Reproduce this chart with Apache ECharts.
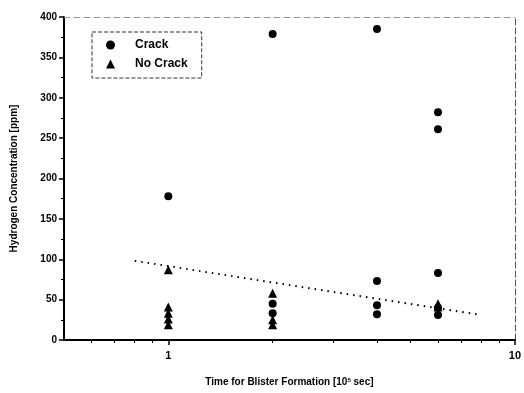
<!DOCTYPE html>
<html>
<head>
<meta charset="utf-8">
<script src="https://cdn.jsdelivr.net/npm/echarts@6/dist/echarts.min.js"></script>
<style>
  html, body { margin: 0; padding: 0; background: #fff; }
  #chart { width: 524px; height: 393px; }
</style>
</head>
<body>
<div id="chart"></div>
<script>
  // time [10^5 sec], hydrogen [ppm]
  const crackPoints = [
    [1, 178],
    [2, 379], [2, 45], [2, 33],
    [4, 385], [4, 73], [4, 43], [4, 32],
    [6, 282], [6, 261], [6, 83], [6, 40], [6, 31]
  ];
  const noCrackPoints = [
    [1, 87], [1, 41], [1, 33], [1, 26], [1, 19],
    [2, 58], [2, 25], [2, 19],
    [6, 45], [6, 41]
  ];
  const trendLine = [[0.8, 98], [8, 31]];

  const xMajorTicks = [1, 10];
  const xMinorTicks = [0.6, 0.7, 0.8, 0.9, 2, 3, 4, 5, 6, 7, 8, 9];

  const font = '"Liberation Sans", Arial, sans-serif';
  const chart = echarts.init(document.getElementById('chart'));

  chart.setOption({
    animation: false,
    backgroundColor: '#fff',
    textStyle: { fontFamily: font },
    grid: { left: 64, right: 7, top: 17, bottom: 53 },
    legend: {
      orient: 'vertical',
      left: 92,
      top: 32,
      padding: [7, 14, 8, 14],
      itemGap: 7,
      itemWidth: 9,
      itemHeight: 9,
      borderColor: '#333',
      borderWidth: 1,
      borderType: 'dashed',
      textStyle: { fontFamily: font, fontWeight: 'bold', fontSize: 12, color: '#000', padding: [0, 0, 0, 15] },
      data: [
        { name: 'Crack', icon: 'circle' },
        { name: 'No Crack', icon: 'triangle' }
      ]
    },
    xAxis: [
      {
        type: 'log',
        min: 0.5,
        max: 10,
        logBase: 10,
        name: 'Time for Blister Formation [10{sup|5} sec]',
        nameLocation: 'middle',
        nameGap: 37,
        nameTextStyle: {
          fontFamily: font, fontWeight: 'bold', fontSize: 10, color: '#000',
          rich: { sup: { fontSize: 6, fontWeight: 'bold', verticalAlign: 'top', padding: [0, 0, 5, 0] } }
        },
        axisLine: { lineStyle: { color: '#000', width: 2 } },
        axisTick: { show: true, customValues: xMajorTicks, length: 5, lineStyle: { color: '#000', width: 1.5 } },
        axisLabel: { customValues: xMajorTicks, color: '#000', fontWeight: 'bold', fontSize: 11, margin: 10 },
        splitLine: { show: false },
        minorTick: { show: false }
      },
      {
        type: 'log',
        min: 0.5,
        max: 10,
        position: 'bottom',
        axisLine: { show: false },
        axisTick: { show: true, customValues: xMinorTicks, length: 3, lineStyle: { color: '#000', width: 1 } },
        axisLabel: { show: false },
        splitLine: { show: false }
      },
      {
        type: 'log',
        min: 0.5,
        max: 10,
        position: 'top',
        axisLine: { lineStyle: { color: '#999', width: 1, type: [6, 4] } },
        axisTick: { show: false },
        axisLabel: { show: false },
        splitLine: { show: false }
      }
    ],
    yAxis: [
      {
        type: 'value',
        min: 0,
        max: 400,
        interval: 50,
        name: 'Hydrogen Concentration [ppm]',
        nameLocation: 'middle',
        nameGap: 45,
        nameRotate: 90,
        nameTextStyle: { fontFamily: font, fontWeight: 'bold', fontSize: 10, color: '#000' },
        axisLine: { show: true, lineStyle: { color: '#000', width: 2 } },
        axisTick: { show: true, length: 5, lineStyle: { color: '#000', width: 1.5 } },
        minorTick: { show: true, splitNumber: 2, length: 3, lineStyle: { color: '#000' } },
        axisLabel: { color: '#000', fontWeight: 'bold', fontSize: 10, margin: 7 },
        splitLine: { show: false }
      },
      {
        type: 'value',
        min: 0,
        max: 400,
        position: 'right',
        axisLine: { show: true, lineStyle: { color: '#555', width: 1, type: [6, 3] } },
        axisTick: { show: false },
        axisLabel: { show: false },
        splitLine: { show: false }
      }
    ],
    series: [
      {
        name: 'Crack',
        type: 'scatter',
        symbol: 'circle',
        symbolSize: 8,
        itemStyle: { color: '#000', opacity: 1 },
        data: crackPoints
      },
      {
        name: 'No Crack',
        type: 'scatter',
        symbol: 'triangle',
        symbolSize: 9,
        itemStyle: { color: '#000', opacity: 1 },
        data: noCrackPoints
      },
      {
        name: 'trend',
        type: 'line',
        symbol: 'none',
        lineStyle: { color: '#000', width: 2, type: [1.5, 5] },
        data: trendLine
      }
    ]
  });
</script>
</body>
</html>
